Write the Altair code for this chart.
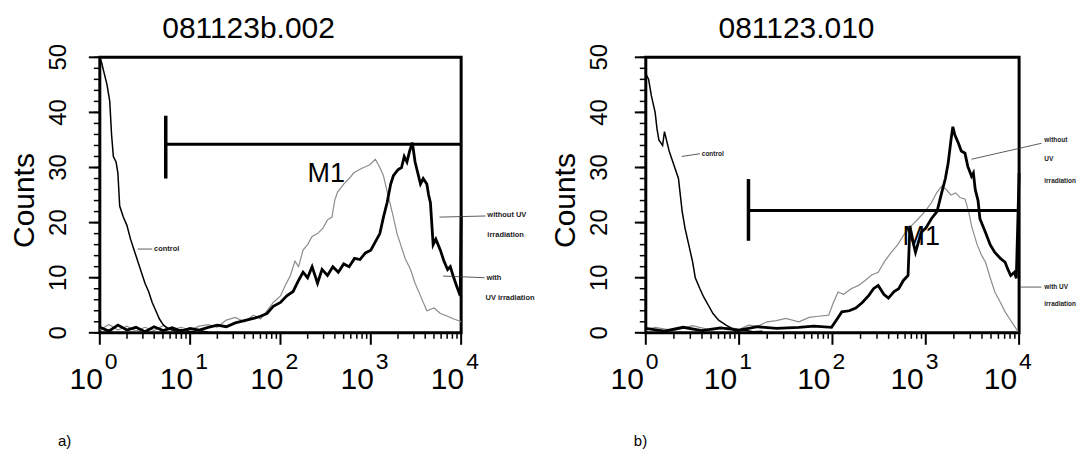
import altair as alt
import pandas as pd

FONT = "Liberation Sans"

# ---------------- Panel a) 081123b.002 ----------------
a_ctrl_x = [0.00, 0.02, 0.05, 0.08, 0.11, 0.13, 0.15, 0.18, 0.20, 0.22, 0.26, 0.30, 0.34, 0.38,
            0.42, 0.46, 0.50, 0.54, 0.58, 0.62, 0.66, 0.70, 0.75, 0.80, 0.85, 0.90, 1.00, 1.10, 1.20]
a_ctrl_y = [50, 49, 47, 45, 42, 36, 32, 31, 29, 23, 21, 19.5, 17, 15,
            13, 11, 9, 7.5, 5.5, 4, 2.5, 1.5, 0.8, 0.5, 0.3, 0.6, 0.2, 0.4, 0.1]

a_with_x = [0.00, 0.10, 0.20, 0.30, 0.40, 0.50, 0.60, 0.70, 0.80, 0.90, 1.00, 1.10, 1.20, 1.30,
            1.40, 1.50, 1.60, 1.70, 1.78, 1.85, 1.92, 2.00, 2.05, 2.11, 2.16, 2.20, 2.25, 2.30,
            2.35, 2.41, 2.47, 2.52, 2.57, 2.60, 2.63, 2.70, 2.76, 2.81, 2.86, 2.92, 2.99, 3.05,
            3.10, 3.14, 3.19, 3.25, 3.29, 3.33, 3.38, 3.44, 3.49, 3.55, 3.62, 3.70, 3.77, 3.85,
            3.92, 4.00]
a_with_y = [0.5, 1.5, 0.5, 1.2, 0.3, 1.0, 0.4, 1.3, 0.6, 1.0, 0.5, 1.2, 1.5, 1.0,
            2.3, 2.8, 2.0, 3.2, 2.5, 4.0, 5.5, 6.7, 8.5, 10.4, 13, 12, 15, 16,
            17.5, 18, 19, 20.5, 21, 24, 25.5, 27, 28, 29, 29.5, 30, 30.5, 31.5,
            30, 28.5, 25, 21, 18, 16, 13.5, 11.5, 9, 6.7, 4, 4.5, 3.5, 3,
            2.5, 2]

a_wo_x = [0.00, 0.10, 0.20, 0.30, 0.40, 0.50, 0.60, 0.70, 0.80, 0.90, 1.00, 1.10, 1.20, 1.30,
          1.40, 1.50, 1.60, 1.70, 1.78, 1.85, 1.92, 2.00, 2.07, 2.14, 2.20, 2.25, 2.30, 2.35,
          2.41, 2.46, 2.52, 2.58, 2.64, 2.70, 2.76, 2.82, 2.88, 2.94, 3.00, 3.05, 3.10, 3.14,
          3.18, 3.22, 3.25, 3.30, 3.34, 3.37, 3.40, 3.43, 3.46, 3.49, 3.52, 3.55, 3.58, 3.62,
          3.64, 3.66, 3.69, 3.72, 3.77, 3.81, 3.85, 3.88, 3.91, 3.95, 3.99, 4.00]
a_wo_y = [1.0, 0.3, 1.4, 0.5, 1.0, 0.2, 1.1, 0.4, 0.9, 0.3, 0.8, 0.5, 1.0, 1.4,
          1.1, 1.8, 2.2, 2.6, 3.0, 3.5, 4.8, 5.5, 6.7, 7.5, 9.5, 11, 10, 12,
          9, 11.5, 10.4, 12, 11, 12.5, 12, 13.5, 13.3, 14.5, 15, 16.5, 18, 21,
          23.6, 27, 28.5, 29.6, 30, 32, 31, 33, 34.5, 31, 29, 27, 28, 27,
          25, 23.6, 16, 17, 15, 13, 11.5, 12, 10.4, 8.5, 6.7, 21]

# ---------------- Panel b) 081123.010 ----------------
b_ctrl_x = [0.00, 0.03, 0.06, 0.10, 0.12, 0.14, 0.18, 0.20, 0.25, 0.30, 0.35, 0.37, 0.39, 0.42,
            0.46, 0.50, 0.53, 0.58, 0.62, 0.67, 0.72, 0.78, 0.86, 0.92, 0.96, 1.05, 1.15, 1.25]
b_ctrl_y = [47, 46, 43, 40, 37, 35, 34, 36.5, 33, 30.5, 28, 25, 22, 19,
            16, 13, 10, 8, 6.5, 5, 3.5, 2.3, 1.4, 0.8, 0.3, 0.5, 0.2, 0.3]

b_with_x = [0.00, 0.10, 0.30, 0.50, 0.70, 0.90, 1.00, 1.10, 1.20, 1.30, 1.40, 1.50, 1.64, 1.75,
            1.85, 1.96, 2.01, 2.06, 2.12, 2.20, 2.28, 2.35, 2.42, 2.49, 2.56, 2.63, 2.70, 2.78,
            2.85, 2.92, 2.99, 3.06, 3.12, 3.17, 3.22, 3.27, 3.32, 3.37, 3.42, 3.46, 3.49, 3.55,
            3.60, 3.64, 3.69, 3.74, 3.80, 3.85, 3.90, 3.95, 3.99]
b_with_y = [0.5, 1.0, 0.4, 1.3, 0.5, 1.0, 0.6, 1.4, 1.2, 2.0, 2.2, 2.6, 2.0, 2.8,
            3.0, 3.2, 5.5, 7.4, 7.0, 8.0, 8.6, 9.5, 10.5, 11, 13, 14.6, 16, 18.2,
            19.5, 20.7, 22, 23.6, 25.5, 26.6, 26, 25, 25.4, 24.5, 24.3, 22, 19.4, 16,
            14, 12.8, 10, 7.4, 5.5, 3.8, 2.5, 1.2, 0.2]

b_wo_x = [0.00, 0.20, 0.40, 0.60, 0.80, 1.00, 1.20, 1.40, 1.64, 1.80, 1.99, 2.05, 2.10, 2.18,
          2.25, 2.32, 2.39, 2.44, 2.49, 2.55, 2.60, 2.66, 2.71, 2.76, 2.81, 2.83, 2.87, 2.89,
          2.95, 3.00, 3.06, 3.12, 3.17, 3.21, 3.24, 3.27, 3.29, 3.31, 3.35, 3.38, 3.42, 3.45,
          3.49, 3.51, 3.53, 3.56, 3.58, 3.64, 3.69, 3.74, 3.80, 3.85, 3.88, 3.91, 3.95, 3.97,
          4.00]
b_wo_y = [0.8, 0.3, 1.0, 0.4, 0.9, 0.5, 1.1, 0.8, 1.0, 1.2, 1.0, 2.5, 3.8, 4.0,
          4.5, 5.5, 6.8, 8.0, 8.6, 7.0, 6.3, 7.5, 8.0, 9.5, 10.4, 19.4, 16, 14.6,
          18.2, 19, 20.7, 22, 25.4, 28, 30.8, 35, 37.4, 36, 34.4, 33, 32.6, 30.2,
          28.4, 29, 26, 24, 20.7, 18.2, 16, 14.6, 13.5, 12.8, 11.5, 10.4, 11, 9.9,
          29]

# Marker M1: [x_log, y_low, y_high, y_bar]
a_m1 = [0.73, 28.0, 39.4, 34.2]
b_m1 = [1.10, 16.7, 27.9, 22.2]
a_m1_label = [2.30, 28.8]
b_m1_label = [2.75, 17.3]

# annotation texts (x in decades, y in counts)
a_note_text = ["control", "without UV", "irradiation", "with", "UV irradiation"]
a_note_x = [0.60, 4.29, 4.29, 4.28, 4.27]
a_note_y = [15.2, 21.4, 17.8, 10.0, 6.4]
a_lead_x1 = [0.42, 3.76, 3.80]
a_lead_x2 = [0.58, 4.27, 4.26]
a_lead_y1 = [15.2, 21.0, 10.3]
a_lead_y2 = [15.2, 21.2, 10.0]

b_note_text = ["control", "without", "UV", "irradiation", "with UV", "irradiation"]
b_note_x = [0.60, 4.27, 4.27, 4.27, 4.27, 4.27]
b_note_y = [32.5, 35.0, 31.5, 27.5, 8.3, 5.3]
b_lead_x1 = [0.385, 3.49, 4.02]
b_lead_x2 = [0.58, 4.24, 4.24]
b_lead_y1 = [32.0, 31.5, 8.3]
b_lead_y2 = [32.5, 34.4, 8.3]

decades = [0, 1, 2, 3, 4]
y_major = [0, 10, 20, 30, 40, 50]
y_minor = list(range(0, 51, 2))
x_minor = [k * 10 ** d for d in range(4) for k in range(2, 10)]


def curve(xs, ys):
    return pd.DataFrame({"fl": [10 ** v for v in xs], "count": ys})


def panel(title, dx_title, ctrl, withuv, wouv, m1, m1lab, notes, leads, letter, w, h,
          lab_dx, letter_x, ylab_x, ytitle_x, note_size):
    X = alt.X("fl:Q", scale=alt.Scale(type="log", domain=[1, 10000], nice=False), axis=None)
    Y = alt.Y("count:Q", scale=alt.Scale(domain=[0, 50], nice=False, zero=True), axis=None)
    g = alt.Chart(curve(*withuv)).mark_line(color="#8c8c8c", strokeWidth=1.2).encode(x=X, y=Y)
    c = alt.Chart(curve(*ctrl)).mark_line(color="black", strokeWidth=1.5).encode(x="fl:Q", y="count:Q")
    b = alt.Chart(curve(*wouv)).mark_line(color="black", strokeWidth=2.8).encode(x="fl:Q", y="count:Q")

    mdf = pd.DataFrame({"x": [10 ** m1[0]], "xe": [10000], "y0": [m1[1]], "y1": [m1[2]], "yb": [m1[3]]})
    mh = alt.Chart(mdf).mark_rule(color="black", strokeWidth=3).encode(x="x:Q", x2="xe", y="yb:Q")
    mv = alt.Chart(mdf).mark_rule(color="black", strokeWidth=3.5).encode(x="x:Q", y="y0:Q", y2="y1")
    mt = alt.Chart(pd.DataFrame({"x": [10 ** m1lab[0]], "y": [m1lab[1]], "t": ["M1"]})).mark_text(
        align="left", baseline="middle", fontSize=27, font=FONT, color="black").encode(
        x="x:Q", y="y:Q", text="t:N")

    ndf = pd.DataFrame({"x": [10 ** v for v in notes[1]], "y": notes[2], "t": notes[0]})
    nt = alt.Chart(ndf).mark_text(align="left", baseline="middle", fontSize=note_size,
                                  fontWeight="bold", font=FONT, color="#222").encode(
        x="x:Q", y="y:Q", text="t:N")
    ldf = pd.DataFrame({"x1": [10 ** v for v in leads[0]], "x2": [10 ** v for v in leads[1]],
                        "y1": leads[2], "y2": leads[3]})
    ll = alt.Chart(ldf).mark_rule(color="#333", strokeWidth=0.8).encode(
        x="x1:Q", x2="x2", y="y1:Q", y2="y2")

    # x axis ticks and labels
    ddf = pd.DataFrame({"x": [10 ** d for d in decades], "base": ["10"] * 5,
                        "exp": [str(d) for d in decades]})
    xmaj = alt.Chart(ddf).mark_rule(color="black", strokeWidth=2).encode(
        x="x:Q", y=alt.value(h), y2=alt.value(h + 12))
    xmin = alt.Chart(pd.DataFrame({"x": x_minor})).mark_rule(color="black", strokeWidth=1.5).encode(
        x="x:Q", y=alt.value(h), y2=alt.value(h + 6))
    lb = alt.Chart(ddf).mark_text(align="right", baseline="middle", fontSize=30, font=FONT,
                                  dx=lab_dx, color="black").encode(
        x="x:Q", y=alt.value(h + 47), text="base:N")
    le = alt.Chart(ddf).mark_text(align="left", baseline="middle", fontSize=23, font=FONT,
                                  dx=lab_dx + 2, color="black").encode(
        x="x:Q", y=alt.value(h + 29), text="exp:N")

    # y axis ticks, labels and title
    ymajdf = pd.DataFrame({"y": y_major, "t": [str(v) for v in y_major]})
    ymaj = alt.Chart(ymajdf).mark_rule(color="black", strokeWidth=2).encode(
        y="y:Q", x=alt.value(0), x2=alt.value(-11))
    ymin = alt.Chart(pd.DataFrame({"y": y_minor})).mark_rule(color="black", strokeWidth=1.5).encode(
        y="y:Q", x=alt.value(0), x2=alt.value(-6))
    ylab = alt.Chart(ymajdf).mark_text(angle=270, align="center", baseline="middle", fontSize=24,
                                       font=FONT, color="black").encode(
        y="y:Q", x=alt.value(ylab_x), text="t:N")
    ytit = alt.Chart(pd.DataFrame({"t": ["Counts"]})).mark_text(
        angle=270, align="center", baseline="middle", fontSize=30, font=FONT, color="black").encode(
        x=alt.value(ytitle_x), y=alt.value(h * 0.52), text="t:N")

    lt = alt.Chart(pd.DataFrame({"t": [letter]})).mark_text(
        align="left", baseline="middle", fontSize=15, font=FONT, color="black").encode(
        x=alt.value(letter_x), y=alt.value(h + 108), text="t:N")

    return alt.layer(g, c, b, mh, mv, mt, ll, nt, xmin, xmaj, lb, le, ymin, ymaj, ylab, ytit, lt).properties(
        width=w, height=h,
        title=alt.TitleParams(title, dx=dx_title, fontSize=30, font=FONT,
                              fontWeight="normal", anchor="middle", frame="group", offset=0))


left = panel("081123b.002", -32, (a_ctrl_x, a_ctrl_y), (a_with_x, a_with_y), (a_wo_x, a_wo_y),
             a_m1, a_m1_label, (a_note_text, a_note_x, a_note_y),
             (a_lead_x1, a_lead_x2, a_lead_y1, a_lead_y2), "a)", 362, 276, 3, -42,
             -41, -75, 7.5)
right = panel("081123.010", -36, (b_ctrl_x, b_ctrl_y), (b_with_x, b_with_y), (b_wo_x, b_wo_y),
              b_m1, b_m1_label, (b_note_text, b_note_x, b_note_y),
              (b_lead_x1, b_lead_x2, b_lead_y1, b_lead_y2), "b)", 374, 276, -2, -12,
              -46, -80, 6.5)

chart = alt.hconcat(left, right, spacing=185, bounds="flush").properties(
    padding={"left": 8, "top": 12, "right": 0, "bottom": 0},
    background="white"
).configure_view(stroke="black", strokeWidth=3).configure_title(color="black")

chart.save("out.html", embed_options={"renderer": "svg", "actions": False})
